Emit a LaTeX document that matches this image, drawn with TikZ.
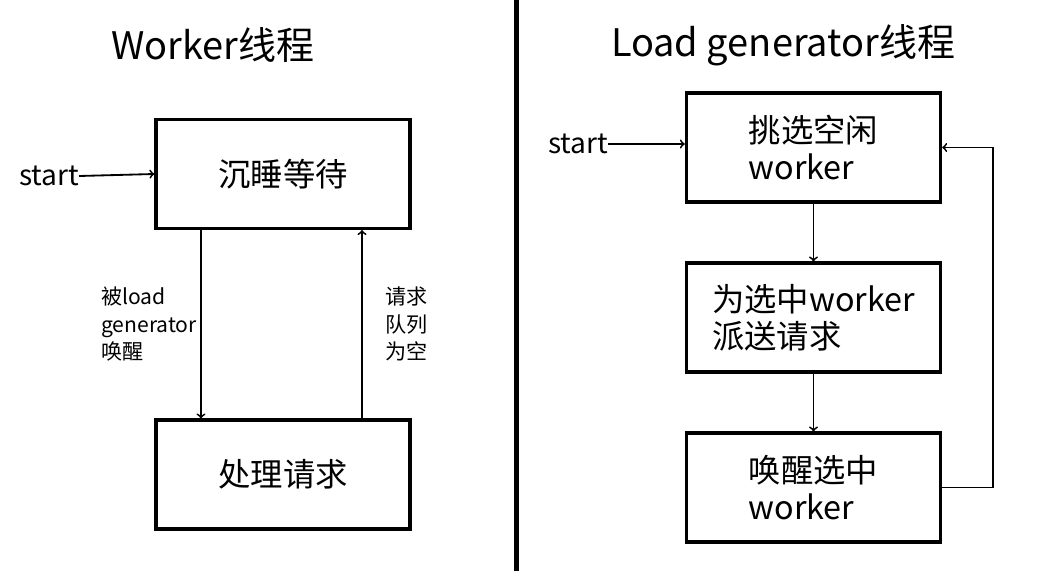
\documentclass[tikz,border=0pt]{standalone}
\usepackage{fontspec}
\setmainfont{Noto Sans CJK SC}
\usetikzlibrary{positioning}

\begin{document}
\begin{tikzpicture}[x=0.025cm,y=-0.025cm,
		blk/.style={draw,line width=2.3pt,minimum width=6.35cm,minimum height=2.72cm,align=left,inner sep=0pt,font=\fontsize{23}{26.5}\selectfont},
		arr/.style={->,line width=1.3pt},
		lbl/.style={anchor=west,align=left,inner sep=0pt,font=\fontsize{15}{19.5}\selectfont},
		ttl/.style={inner sep=0pt,font=\fontsize{27}{32}\selectfont}]
			\useasboundingbox (0,0) rectangle (1041,571);
			\draw [line width=2.9pt] (516.5,0) -- (516.5,571);
			\node [ttl] (lefttitle) at (213,45) {Worker线程};
			\node [ttl] (righttitle) at (783,45) {Load generator线程};
			\node [blk] (sleep) at (283,174) {沉睡等待};
			\node [blk] (work) at (283,474.5) {处理请求};
			\node [inner sep=0pt,font=\fontsize{20}{24}\selectfont] (startl) at (49,176) {start};
			\draw [arr] (startl.east) -- (sleep.west);
			\draw [arr] ([xshift=-2.05cm]sleep.south) -- ([xshift=-2.05cm]work.north);
			\draw [arr] ([xshift=1.975cm]work.north) -- ([xshift=1.975cm]sleep.south);
			\node [lbl] (wakelbl) at (101,324) {被load\\generator\\唤醒};
			\node [lbl] (emptylbl) at (385,324) {请求\\队列\\为空};
			\node [blk] (pick) at (813.5,147.5) {挑选空闲\\worker};
			\node [blk] (send) at (813.5,317.5) {为选中worker\\派送请求};
			\node [blk] (wake) at (813.5,487.5) {唤醒选中\\worker};
			\node [inner sep=0pt,font=\fontsize{20}{24}\selectfont] (startr) at (578,144) {start};
			\draw [arr] (startr.east) -- (startr.east -| pick.west);
			\draw [arr] (pick.south) -- (send.north);
			\draw [arr] (send.south) -- (wake.north);
			\draw [arr] (wake.east) -- ++(51,0) |- (pick.east);
		\end{tikzpicture}
\end{document}
